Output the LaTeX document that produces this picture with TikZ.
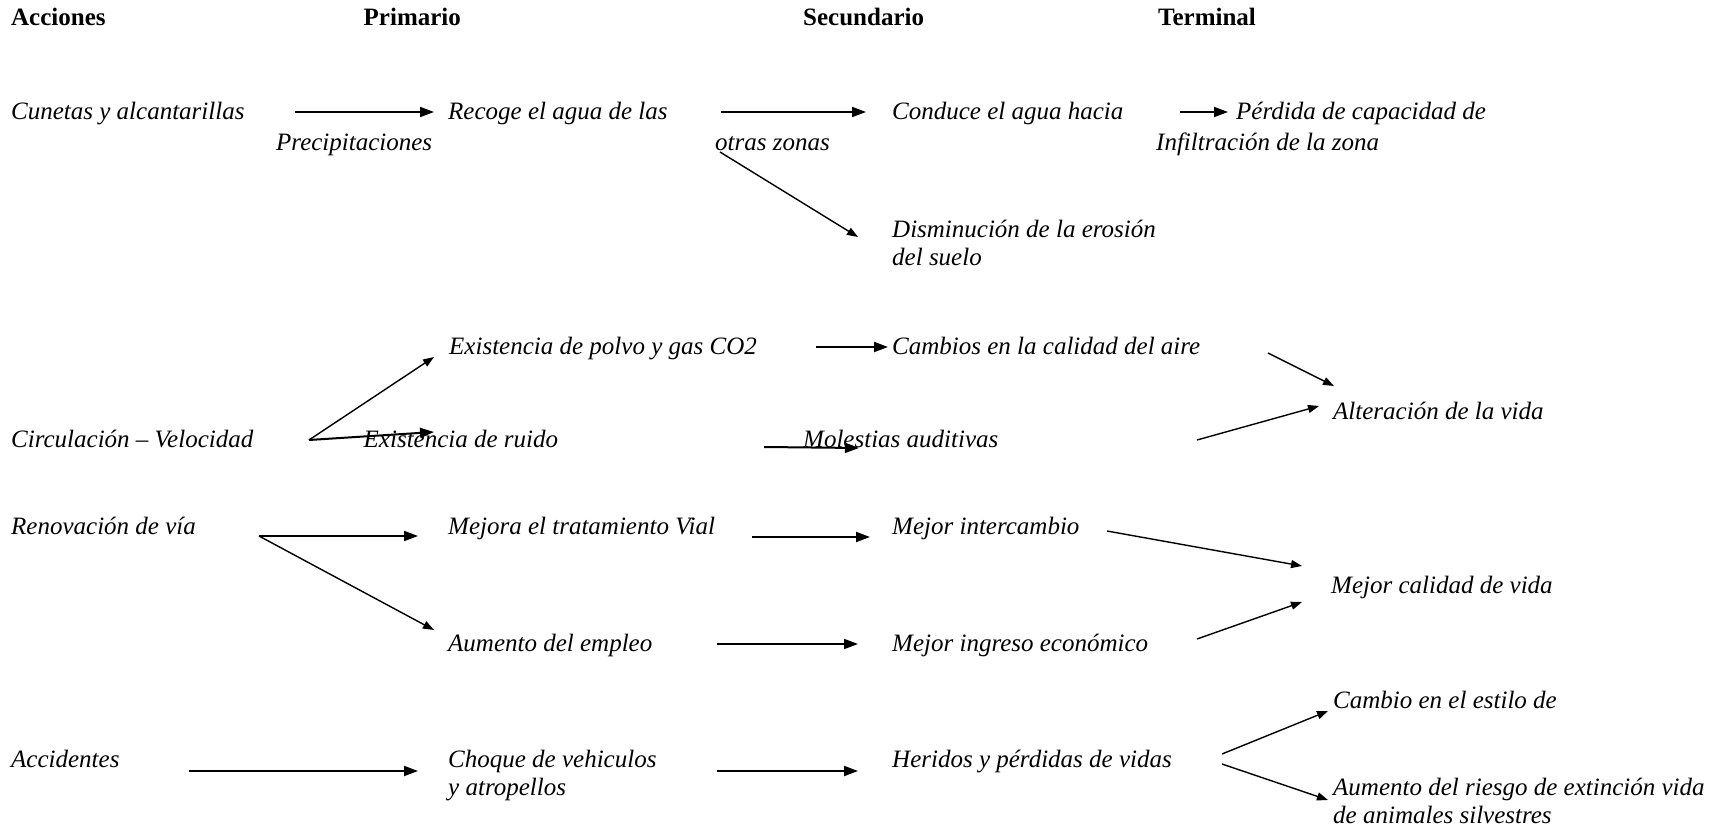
\documentclass[tikz,border=0pt]{standalone}
\usepackage{fontspec}
\setmainfont{Liberation Serif}
\usetikzlibrary{arrows.meta}
\newcommand{\twolines}[2]{\begin{tabular}[t]{@{}l@{}}#1\\#2\end{tabular}}
\begin{document}
\begin{tikzpicture}[x=1pt,y=-1pt,
  txt/.style={font=\fontsize{25}{28}\selectfont\itshape, inner sep=0pt, anchor=base west},
  hdr/.style={font=\fontsize{25}{28}\selectfont\bfseries, inner sep=0pt, anchor=base west},
  harrow/.style={line width=2pt, -{Triangle[length=14pt,width=10pt]}},
  darrow/.style={line width=1.4pt, -{Triangle[length=11pt,width=8pt]}}]
\useasboundingbox[fill=white] (0,0) rectangle (1727,829);

% headers
\node[hdr] (hA) at (11,26) {Acciones};
\node[hdr] (hP) at (363.5,26) {Primario};
\node[hdr] (hS) at (803,26) {Secundario};
\node[hdr] (hT) at (1158,26) {Terminal};

% texts
\node[txt] (cun)   at (11,120)   {Cunetas y alcantarillas};
\node[txt] (prec)  at (276,151)  {Precipitaciones};
\node[txt] (rec)   at (448,120)  {Recoge el agua de las};
\node[txt] (otras) at (715,151)  {otras zonas};
\node[txt] (cond)  at (892,120)  {Conduce el agua hacia};
\node[txt] (perd)  at (1236,120) {Pérdida de capacidad de};
\node[txt] (infil) at (1156,151) {Infiltración de la zona};
\node[txt] (dism)  at (892,238)  {\twolines{Disminución de la erosión}{del suelo}};

\node[txt] (polvo) at (449,354)  {Existencia de polvo y gas CO2};
\node[txt] (camb)  at (892,354)  {Cambios en la calidad del aire};
\node[txt] (circ)  at (11,447)   {Circulación – Velocidad};
\node[txt] (ruido) at (363.5,447) {Existencia de ruido};
\node[txt] (moles) at (803,447)  {Molestias auditivas};
\node[txt] (alter) at (1333,419) {Alteración de la vida};

\node[txt] (renov) at (11,534)   {Renovación de vía};
\node[txt] (mejora) at (448,534) {Mejora el tratamiento Vial};
\node[txt] (mint)  at (892,534)  {Mejor intercambio};
\node[txt] (mcal)  at (1331,593) {Mejor calidad de vida};
\node[txt] (aum)   at (448,651)  {Aumento del empleo};
\node[txt] (ming)  at (892,651)  {Mejor ingreso económico};

\node[txt] (acc)   at (11,767)   {Accidentes};
\node[txt] (choq)  at (448,767)  {\twolines{Choque de vehiculos}{y atropellos}};
\node[txt] (her)   at (892,767)  {Heridos y pérdidas de vidas};
\node[txt] (cest)  at (1333,708) {Cambio en el estilo de};
\node[txt] (aries) at (1333,795) {\twolines{Aumento del riesgo de extinción vida}{de animales silvestres}};

% connector end points
\coordinate (a1s) at (295,112);  \coordinate (a1e) at (434,112);
\coordinate (a2s) at (721,112);  \coordinate (a2e) at (866,112);
\coordinate (a3s) at (1180,112); \coordinate (a3e) at (1228,112);
\coordinate (a4s) at (720,152);  \coordinate (a4e) at (858,237);
\coordinate (a5s) at (309,440);  \coordinate (a5e) at (434,357);
\coordinate (a6e) at (434,432);
\coordinate (a7s) at (764,447);  \coordinate (a7e) at (859,448);
\coordinate (a8s) at (816,347);  \coordinate (a8e) at (888,347);
\coordinate (a9s) at (1268,353); \coordinate (a9e) at (1334,386);
\coordinate (a10s) at (1197,440); \coordinate (a10e) at (1319,406);
\coordinate (a11s) at (259,536); \coordinate (a11e) at (418,536);
\coordinate (a12e) at (434,630);
\coordinate (a13s) at (752,537); \coordinate (a13e) at (870,537);
\coordinate (a14s) at (1107,531); \coordinate (a14e) at (1302,566);
\coordinate (a15s) at (1197,639); \coordinate (a15e) at (1302,602);
\coordinate (a16s) at (717,644); \coordinate (a16e) at (858,644);
\coordinate (a17s) at (189,771); \coordinate (a17e) at (418,771);
\coordinate (a18s) at (717,771); \coordinate (a18e) at (858,771);
\coordinate (a19s) at (1222,754); \coordinate (a19e) at (1328,711);
\coordinate (a20s) at (1222,764); \coordinate (a20e) at (1328,800);

% connectors
\draw[harrow] (a1s) -- (a1e);
\draw[harrow] (a2s) -- (a2e);
\draw[harrow] (a3s) -- (a3e);
\draw[darrow] (a4s) -- (a4e);
\draw[darrow] (a5s) -- (a5e);
\draw[harrow] (a5s) -- (a6e);
\draw[harrow] (a7s) -- (a7e);
\draw[harrow] (a8s) -- (a8e);
\draw[darrow] (a9s) -- (a9e);
\draw[darrow] (a10s) -- (a10e);
\draw[harrow] (a11s) -- (a11e);
\draw[darrow] (a11s) -- (a12e);
\draw[harrow] (a13s) -- (a13e);
\draw[darrow] (a14s) -- (a14e);
\draw[darrow] (a15s) -- (a15e);
\draw[harrow] (a16s) -- (a16e);
\draw[harrow] (a17s) -- (a17e);
\draw[harrow] (a18s) -- (a18e);
\draw[darrow] (a19s) -- (a19e);
\draw[darrow] (a20s) -- (a20e);
\end{tikzpicture}
\end{document}
